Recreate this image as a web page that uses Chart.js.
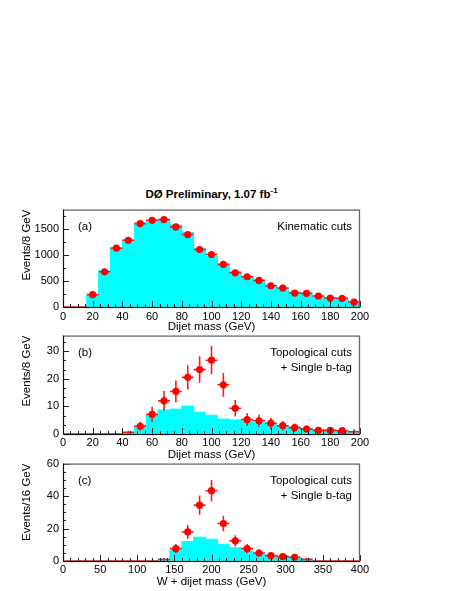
<!DOCTYPE html>
<html>
<head>
<meta charset="utf-8">
<script src="https://cdn.jsdelivr.net/npm/chart.js@4"></script>
<style>
  html, body { margin: 0; padding: 0; background: #fff; overflow: hidden; }
  body { width: 457px; height: 591px; position: relative; font-family: "Liberation Sans", Arial, Helvetica, sans-serif; }
  canvas { position: absolute; left: 0; }
  #title { position: absolute; top: 187px; left: 0; width: 423px; text-align: center;
           font-weight: bold; font-size: 11.5px; line-height: 14px; }
  #title sup { font-size: 8px; vertical-align: baseline; position: relative; top: -5px; }
</style>
</head>
<body>
<div id="title">DØ Preliminary, 1.07 fb<sup>-1</sup></div>
<script>
const FONT = '"Liberation Sans", Arial, Helvetica, sans-serif';

// bin centres (8 GeV bins for dijet mass, 16 GeV bins for W + dijet mass)
const dijetCenters = [4, 12, 20, 28, 36, 44, 52, 60, 68, 76, 84, 92, 100, 108, 116, 124, 132, 140, 148, 156, 164, 172, 180, 188, 196];
const wjjCenters = [8, 24, 40, 56, 72, 88, 104, 120, 136, 152, 168, 184, 200, 216, 232, 248, 264, 280, 296, 312, 328, 344, 360, 376, 392];

// (a) kinematic cuts
const dataA = [0, 0, 236, 676, 1129, 1282, 1601, 1665, 1678, 1538, 1391, 1104, 1008, 817, 657, 581, 510, 408, 364, 268, 262, 211, 172, 166, 96];
const errA  = [0, 0, 15, 26, 34, 36, 40, 41, 41, 39, 37, 33, 32, 29, 26, 24, 23, 20, 19, 16, 16, 15, 13, 13, 10];
const histA = [0, 0, 249, 695, 1142, 1289, 1608, 1659, 1684, 1576, 1429, 1129, 970, 829, 683, 587, 523, 415, 357, 287, 236, 204, 172, 153, 108];

// (b) topological cuts + single b-tag, dijet mass
const dataB = [0, 0, 0, 0, 0, 0.6, 2.8, 7.1, 12.0, 15.4, 20.5, 23.3, 26.7, 17.8, 9.3, 5.2, 4.8, 3.9, 3.0, 2.3, 1.8, 1.3, 1.3, 1.2, 0.8];
const errB  = [0, 0, 0, 0, 0, 0.6, 1.6, 2.8, 3.6, 4.0, 4.4, 4.8, 5.1, 4.3, 3.0, 2.3, 2.2, 2.0, 1.7, 1.5, 1.3, 1.1, 1.1, 1.1, 0.9];
const histB = [0, 0, 0, 0, 0, 0.5, 2.9, 6.8, 8.7, 9.0, 10.1, 7.9, 6.8, 5.4, 5.1, 4.5, 4.1, 3.9, 3.1, 2.5, 2.0, 1.6, 1.4, 1.1, 1.0];

// (c) topological cuts + single b-tag, W + dijet mass
const dataC = [0, 0, 0, 0, 0, 0, 0, 0, 0.9, 7.6, 17.9, 34.4, 43.3, 23.1, 12.4, 7.6, 4.9, 3.3, 2.7, 2.3, 1.0, 0, 0, 0, 0];
const errC  = [0, 0, 0, 0, 0, 0, 0, 0, 0.9, 2.8, 4.2, 5.9, 6.6, 4.8, 3.5, 2.8, 2.2, 1.8, 1.6, 1.5, 1.0, 0, 0, 0, 0];
const histC = [0, 0, 0, 0, 0, 0, 0, 0, 1.2, 6.8, 12.0, 14.7, 13.4, 10.1, 8.2, 6.2, 4.5, 3.4, 2.6, 1.9, 1.1, 0, 0, 0, 0];

// tick labels
const xTicksMass = [0, 20, 40, 60, 80, 100, 120, 140, 160, 180, 200];
const xTicksWjj = [0, 50, 100, 150, 200, 250, 300, 350, 400];
const yTicksA = [0, 500, 1000, 1500];
const yTicksB = [0, 10, 20, 30];
const yTicksC = [0, 20, 40, 60];

function histPoints(centers, values, width) {
  const pts = centers.map((c, i) => ({ x: c - width / 2, y: values[i] }));
  pts.push({ x: centers[centers.length - 1] + width / 2, y: values[values.length - 1] });
  return pts;
}

// error bars (bin width horizontally, +-err vertically), drawn under the markers
const errorBars = {
  id: 'errorBars',
  beforeDatasetDraw(chart, args) {
    const ds = chart.data.datasets[args.index];
    if (!ds.errors) return;
    const { ctx, chartArea: a, scales: { x, y } } = chart;
    ctx.save();
    ctx.beginPath();
    ctx.rect(a.left, a.top, a.right - a.left, a.bottom - a.top + 2);
    ctx.clip();
    ctx.strokeStyle = '#ff1a1a';
    ctx.lineWidth = 1.6;
    ctx.beginPath();
    ds.data.forEach((p, i) => {
      const py = y.getPixelForValue(p.y);
      ctx.moveTo(x.getPixelForValue(p.x - ds.halfWidth), py);
      ctx.lineTo(x.getPixelForValue(p.x + ds.halfWidth), py);
      const e = ds.errors[i];
      if (e > 0) {
        const px = x.getPixelForValue(p.x);
        ctx.moveTo(px, y.getPixelForValue(p.y - e));
        ctx.lineTo(px, y.getPixelForValue(p.y + e));
      }
    });
    ctx.stroke();
    ctx.restore();
  }
};

// ROOT style frame with inward ticks and the panel captions
const rootFrame = {
  id: 'rootFrame',
  afterDatasetsDraw(chart, args, o) {
    const { ctx, chartArea: a, scales: { x, y } } = chart;
    ctx.save();
    ctx.strokeStyle = '#222';
    ctx.lineWidth = 1;
    ctx.beginPath();
    for (let v = x.min; v <= x.max + 1e-6; v += o.xMinor) {
      const px = Math.round(x.getPixelForValue(v)) + 0.5;
      const len = Math.abs(v / o.xMajor - Math.round(v / o.xMajor)) < 1e-6 ? 6 : 3;
      ctx.moveTo(px, a.bottom);
      ctx.lineTo(px, a.bottom - len);
    }
    for (let v = 0; v <= y.max + 1e-6; v += o.yMinor) {
      const py = Math.round(y.getPixelForValue(v)) + 0.5;
      const len = Math.abs(v / o.yMajor - Math.round(v / o.yMajor)) < 1e-6 ? 6 : 3;
      ctx.moveTo(a.left, py);
      ctx.lineTo(a.left + len, py);
    }
    ctx.stroke();
    ctx.strokeStyle = '#666';
    ctx.lineWidth = 1.3;
    ctx.strokeRect(a.left + 0.5, a.top + 0.5, a.right - a.left - 1, a.bottom - a.top);
    ctx.strokeStyle = '#111';
    ctx.lineWidth = 1;
    ctx.beginPath();
    ctx.moveTo(a.left + 0.5, a.top);
    ctx.lineTo(a.left + 0.5, a.bottom + 0.5);
    ctx.lineTo(a.right, a.bottom + 0.5);
    ctx.stroke();

    ctx.fillStyle = '#000';
    ctx.font = '11.5px ' + FONT;
    ctx.textBaseline = 'middle';
    ctx.textAlign = 'left';
    ctx.fillText(o.tag, a.left + 15, a.top + 17);
    ctx.textAlign = 'right';
    o.notes.forEach((t, i) => ctx.fillText(t, a.right - 8, a.top + 17 + i * 15));
    ctx.restore();
  }
};

function makePanel(p) {
  const cv = document.createElement('canvas');
  cv.width = 457;
  cv.height = p.height;
  cv.style.top = p.top + 'px';
  cv.style.width = '457px';
  cv.style.height = p.height + 'px';
  document.body.appendChild(cv);
  const plotH = p.frameBottom - p.frameTop;
  return new Chart(cv.getContext('2d'), {
    type: 'scatter',
    data: {
      datasets: [
        {
          label: 'data',
          order: 1,
          data: p.centers.map((c, i) => ({ x: c, y: p.data[i] })),
          errors: p.errors,
          halfWidth: p.binWidth / 2,
          pointRadius: ctx => (ctx.raw && ctx.raw.y > 1.1 ? 3.6 : 0),
          pointBackgroundColor: '#ff0000',
          pointBorderColor: '#ff0000',
          pointBorderWidth: 0,
          clip: false
        },
        {
          type: 'line',
          label: 'expected',
          order: 2,
          data: histPoints(p.centers, p.hist, p.binWidth),
          stepped: true,
          showLine: true,
          fill: 'origin',
          backgroundColor: '#00ffff',
          borderColor: '#00ffff',
          borderWidth: 1,
          pointRadius: 0
        }
      ]
    },
    options: {
      responsive: false,
      animation: false,
      events: [],
      layout: { padding: { top: p.frameTop - p.top, right: 97, bottom: 0, left: 0 } },
      plugins: {
        legend: { display: false },
        tooltip: { enabled: false },
        rootFrame: { tag: p.tag, notes: p.notes, xMajor: p.xMajor, xMinor: p.xMinor, yMajor: p.yMajor, yMinor: p.yMinor }
      },
      scales: {
        x: {
          type: 'linear',
          min: 0,
          max: p.xMax,
          grid: { display: false, drawTicks: false, tickLength: 0 },
          border: { display: false },
          afterBuildTicks: s => { s.ticks = p.xTicks.map(v => ({ value: v })); },
          afterFit: s => { s.height = p.height - (p.frameTop - p.top) - plotH; },
          ticks: {
            autoSkip: false, maxRotation: 0, padding: p.xPad, color: '#000',
            font: { family: FONT, size: 11 },
            callback: v => String(v)
          },
          title: {
            display: true, text: p.xTitle, color: '#000',
            font: { family: FONT, size: 11.5 },
            padding: { top: 0, bottom: 2 }
          }
        },
        y: {
          min: 0,
          max: p.yMax,
          grid: { display: false, drawTicks: false, tickLength: 0 },
          border: { display: false },
          afterBuildTicks: s => { s.ticks = p.yTicks.map(v => ({ value: v })); },
          afterFit: s => { s.width = 63; },
          ticks: {
            padding: 4, color: '#000',
            font: { family: FONT, size: 11 },
            callback: v => String(v)
          },
          title: {
            display: true, text: p.yTitle, align: 'end', color: '#000',
            font: { family: FONT, size: 11.5 },
            padding: { top: 20, bottom: 0 }
          }
        }
      }
    },
    plugins: [errorBars, rootFrame]
  });
}

makePanel({
  top: 199, height: 137, frameTop: 209, frameBottom: 307, xPad: 3,
  centers: dijetCenters, binWidth: 8, data: dataA, errors: errA, hist: histA,
  xMax: 200, yMax: 1870, xTicks: xTicksMass, yTicks: yTicksA,
  xMajor: 20, xMinor: 5, yMajor: 500, yMinor: 250,
  xTitle: 'Dijet mass (GeV)', yTitle: 'Events/8 GeV',
  tag: '(a)', notes: ['Kinematic cuts']
});

makePanel({
  top: 325, height: 139, frameTop: 335, frameBottom: 434, xPad: 2,
  centers: dijetCenters, binWidth: 8, data: dataB, errors: errB, hist: histB,
  xMax: 200, yMax: 35.6, xTicks: xTicksMass, yTicks: yTicksB,
  xMajor: 20, xMinor: 5, yMajor: 10, yMinor: 10 / 3,
  xTitle: 'Dijet mass (GeV)', yTitle: 'Events/8 GeV',
  tag: '(b)', notes: ['Topological cuts', '+ Single b-tag']
});

makePanel({
  top: 453, height: 138, frameTop: 463, frameBottom: 561, xPad: 2,
  centers: wjjCenters, binWidth: 16, data: dataC, errors: errC, hist: histC,
  xMax: 400, yMax: 60, xTicks: xTicksWjj, yTicks: yTicksC,
  xMajor: 50, xMinor: 10, yMajor: 20, yMinor: 5,
  xTitle: 'W + dijet mass (GeV)', yTitle: 'Events/16 GeV',
  tag: '(c)', notes: ['Topological cuts', '+ Single b-tag']
});
</script>
</body>
</html>
